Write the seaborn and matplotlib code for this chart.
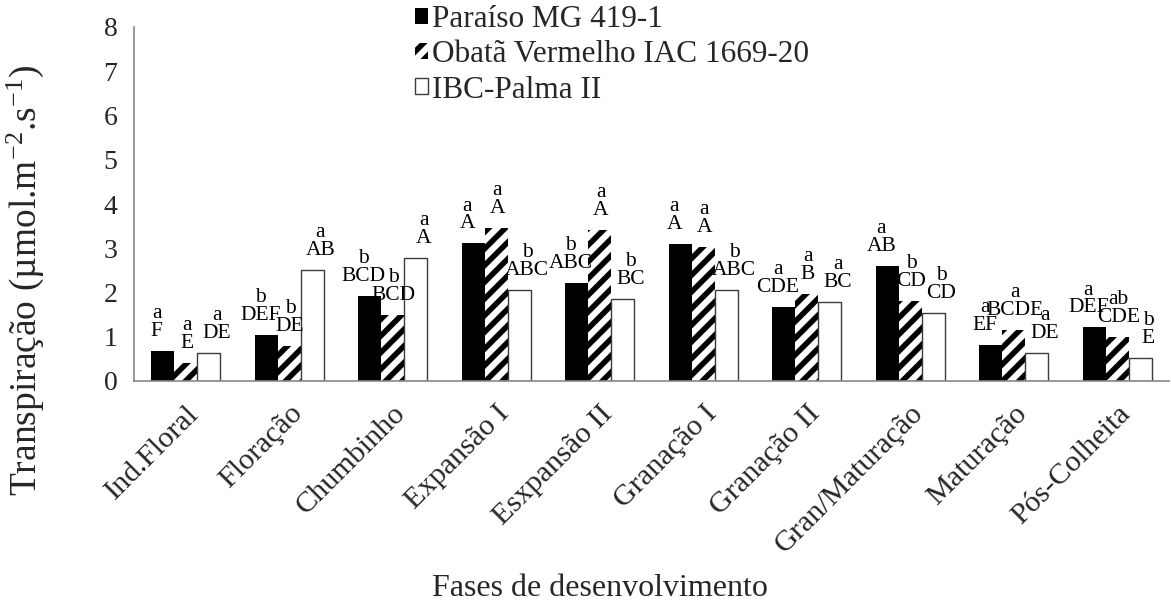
import matplotlib
matplotlib.use("Agg")
import matplotlib.pyplot as plt
import matplotlib.transforms as mtransforms
from matplotlib.patches import Patch
import seaborn as sns
import pandas as pd
import numpy as np

phases = ["Ind.Floral", "Floração", "Chumbinho", "Expansão I", "Esxpansão II",
          "Granação I", "Granação II", "Gran/Maturação", "Maturação", "Pós-Colheita"]
cultivars = ["Paraíso MG 419-1", "Obatã Vermelho IAC 1669-20", "IBC-Palma II"]

paraiso = [0.68, 1.05, 1.93, 3.11, 2.21, 3.09, 1.68, 2.61, 0.81, 1.21]
obata = [0.40, 0.80, 1.49, 3.46, 3.41, 3.03, 1.96, 1.81, 1.15, 0.99]
palma = [0.63, 2.51, 2.78, 2.06, 1.85, 2.06, 1.79, 1.53, 0.63, 0.52]

lower_paraiso = ["a", "b", "b", "a", "b", "a", "a", "a", "a", "a"]
lower_obata = ["a", "b", "b", "a", "a", "a", "a", "b", "a", "ab"]
lower_palma = ["a", "a", "a", "b", "b", "b", "a", "b", "a", "b"]
upper_paraiso = ["F", "DEF", "BCD", "A", "ABC", "A", "CDE", "AB", "EF", "DEF"]
upper_obata = ["E", "DE", "BCD", "A", "A", "A", "B", "CD", "BCDE", "CDE"]
upper_palma = ["DE", "AB", "A", "ABC", "BC", "ABC", "BC", "CD", "DE", "E"]

df = pd.DataFrame({
    "fase": phases * 3,
    "cultivar": [cultivars[0]] * 10 + [cultivars[1]] * 10 + [cultivars[2]] * 10,
    "valor": paraiso + obata + palma,
})

sns.set_theme(style="white")
plt.rcParams["font.family"] = ["Liberation Serif", "DejaVu Serif"]
plt.rcParams["mathtext.fontset"] = "custom"
plt.rcParams["mathtext.rm"] = "Liberation Serif"
plt.rcParams["mathtext.it"] = "Liberation Serif:italic"
plt.rcParams["hatch.linewidth"] = 4.0

fig = plt.figure(figsize=(11.71, 6.10), dpi=100)
ax = fig.add_axes([134 / 1171, 1 - 381 / 610, (1169 - 134) / 1171, (381 - 27) / 610])

sns.barplot(data=df, x="fase", y="valor", hue="cultivar", order=phases,
            hue_order=cultivars, palette=["black", "white", "white"],
            width=0.667, ax=ax, errorbar=None, legend=False)

styles = [dict(fc="black", ec="black", lw=0, hatch=None),
          dict(fc="white", ec="black", lw=0, hatch="//"),
          dict(fc="white", ec="#3a3a3a", lw=1.0, hatch=None)]
for cont, st in zip(ax.containers, styles):
    for p in cont.patches:
        p.set_facecolor(st["fc"])
        p.set_edgecolor(st["ec"])
        p.set_linewidth(st["lw"])
        if st["hatch"]:
            p.set_hatch(st["hatch"])

lowers = [lower_paraiso, lower_obata, lower_palma]
uppers = [upper_paraiso, upper_obata, upper_palma]
xoffs = [-6, 1, 8]
for k, cont in enumerate(ax.containers):
    for i, p in enumerate(cont.patches):
        xc = p.get_x() + p.get_width() / 2
        tr = mtransforms.offset_copy(ax.transData, fig=fig, x=xoffs[k], y=10, units="dots")
        ax.text(xc, p.get_height(), f"{lowers[k][i]}\n{uppers[k][i]}", transform=tr,
                ha="center", va="bottom", fontsize=15.5, linespacing=0.92, color="black")

# legend
handles = [Patch(fc="black", ec="black", lw=0),
           Patch(fc="white", ec="black", lw=0, hatch="//"),
           Patch(fc="white", ec="#3a3a3a", lw=1.0)]
fig.legend(handles, cultivars, loc="upper left", bbox_to_anchor=(415 / 1171, 1 - 5 / 610),
           frameon=False, fontsize=22.5, handlelength=0.42, handleheight=0.42,
           handletextpad=0.12, labelspacing=0.2, borderpad=0, borderaxespad=0)

ax.set_xlim(-0.5, 9.5)
ax.set_ylim(0, 8)
ax.set_yticks(range(0, 9))
ax.set_yticklabels([str(v) for v in range(0, 9)], fontsize=20)
ax.set_xticks(np.arange(-0.5, 10, 1.0))
ax.set_xticklabels([])
ax.set_xticks(np.arange(10), minor=True)
ax.set_xticklabels(phases, minor=True, rotation=45, ha="right", rotation_mode="anchor",
                   fontsize=21.7)
shift = mtransforms.ScaledTranslation(-12 / 100, 0, fig.dpi_scale_trans)
for lab in ax.get_xticklabels(minor=True):
    lab.set_transform(lab.get_transform() + shift)
ax.tick_params(axis="x", which="minor", length=0, pad=14)
ax.tick_params(axis="x", which="major", length=9, width=1.2, color="#898989", direction="out")
ax.tick_params(axis="y", length=7, width=1.2, color="#898989", direction="out", pad=5)
for s in ["top", "right"]:
    ax.spines[s].set_visible(False)
for s in ["left", "bottom"]:
    ax.spines[s].set_color("#898989")
    ax.spines[s].set_linewidth(1.2)

ax.set_xlabel("Fases de desenvolvimento", fontsize=23)
ax.set_ylabel("Transpiração (µmol.m$^{-2}$.s$^{-1}$)", fontsize=27)
ax.xaxis.set_label_coords(0.45, -0.545)
ax.yaxis.set_label_coords(-0.085, 0.283)

fig.savefig("out.png", dpi=100)
